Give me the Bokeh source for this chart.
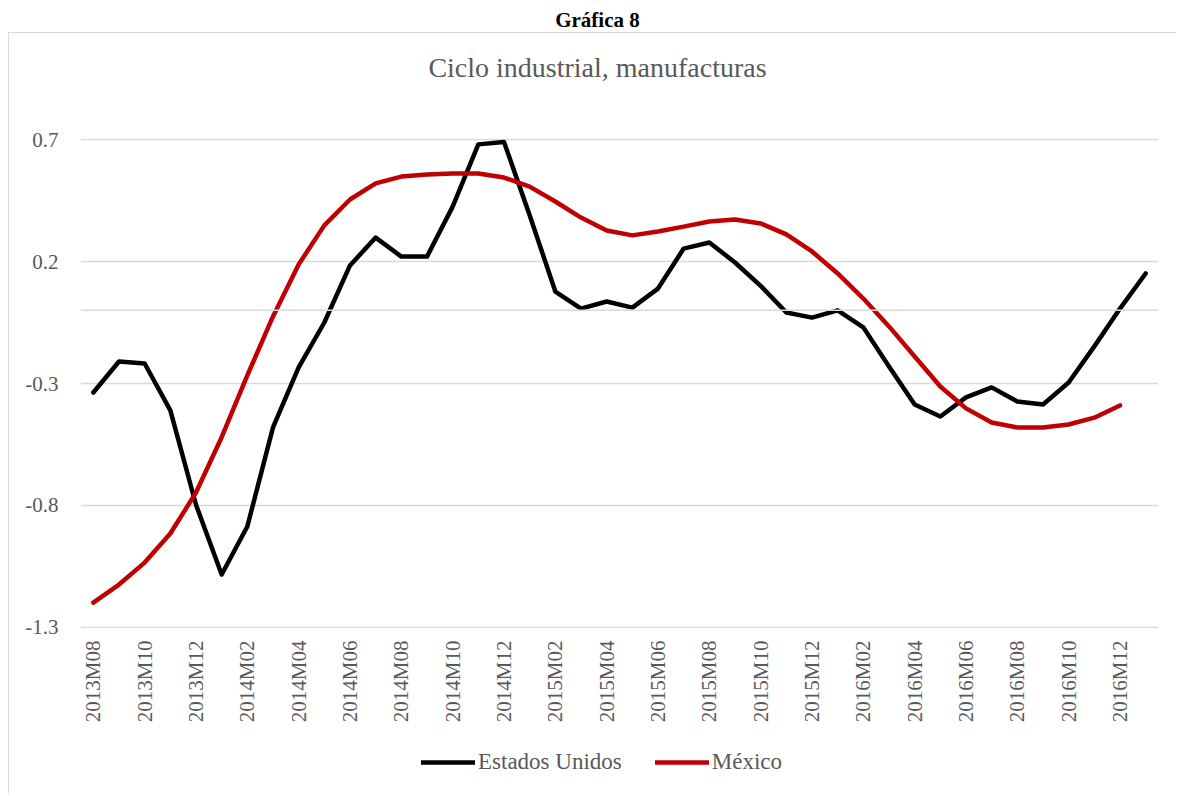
import math
from bokeh.plotting import figure
from bokeh.models import Range1d, FixedTicker, Span, Legend, LegendItem, Div
from bokeh.layouts import column
from bokeh.embed import file_html
from bokeh.resources import INLINE

# ---------------- data ----------------
months = ["2013M08", "2013M09", "2013M10", "2013M11", "2013M12",
          "2014M01", "2014M02", "2014M03", "2014M04", "2014M05", "2014M06",
          "2014M07", "2014M08", "2014M09", "2014M10", "2014M11", "2014M12",
          "2015M01", "2015M02", "2015M03", "2015M04", "2015M05", "2015M06",
          "2015M07", "2015M08", "2015M09", "2015M10", "2015M11", "2015M12",
          "2016M01", "2016M02", "2016M03", "2016M04", "2016M05", "2016M06",
          "2016M07", "2016M08", "2016M09", "2016M10", "2016M11", "2016M12",
          "2017M01"]

estados_unidos = [-0.337, -0.21, -0.218, -0.41, -0.797, -1.083, -0.886, -0.48,
                  -0.234, -0.05, 0.184, 0.298, 0.22, 0.22, 0.425, 0.68, 0.69,
                  0.39, 0.077, 0.007, 0.036, 0.011, 0.089, 0.253, 0.278, 0.196,
                  0.10, -0.009, -0.03, 0.0, -0.07, -0.23, -0.386, -0.435,
                  -0.357, -0.316, -0.374, -0.386, -0.296, -0.148, 0.007, 0.151]

mexico = [-1.198, -1.124, -1.034, -0.915, -0.747, -0.52, -0.267, -0.025, 0.188,
          0.348, 0.454, 0.52, 0.548, 0.557, 0.561, 0.561, 0.544, 0.507, 0.446,
          0.38, 0.327, 0.307, 0.323, 0.343, 0.364, 0.372, 0.356, 0.311, 0.241,
          0.151, 0.048, -0.066, -0.189, -0.312, -0.402, -0.46, -0.48, -0.48,
          -0.468, -0.44, -0.39]

y_ticks = [0.7, 0.2, -0.3, -0.8, -1.3]
y_tick_labels = ["0.7", "0.2", "-0.3", "-0.8", "-1.3"]

header = "Gráfica 8"
chart_title = "Ciclo industrial, manufacturas"
series_names = ["Estados Unidos", "México"]
series_colors = ["#000000", "#C00000"]

# ---------------- styling ----------------
FONT = "Liberation Serif"
GRAY_TEXT = "#595959"
GRID = "#d9d9d9"
BORDER = "1px solid #d9d9d9"

x_us = list(range(len(estados_unidos)))
x_mx = list(range(len(mexico)))
label_ticks = list(range(0, len(months) - 1, 2))
pad = 0.0041

# ---------------- main chart ----------------
p = figure(width=1167, height=621,
           x_range=Range1d(-0.5, len(months) - 0.5),
           y_range=Range1d(min(y_ticks) - pad, max(y_ticks) + pad),
           output_backend="svg", toolbar_location=None,
           min_border_left=71, min_border_right=18,
           min_border_top=31, min_border_bottom=100,
           outline_line_color=None,
           margin=(0, 0, 0, 8),
           styles={"border-left": BORDER})

# y axis
p.yaxis.ticker = FixedTicker(ticks=y_ticks)
p.yaxis.major_label_overrides = {t: l for t, l in zip(y_ticks, y_tick_labels)}
p.yaxis.axis_line_color = None
p.yaxis.major_tick_line_color = None
p.yaxis.minor_tick_line_color = None
p.yaxis.major_tick_out = 0
p.yaxis.major_tick_in = 0
p.yaxis.major_label_text_font = FONT
p.yaxis.major_label_text_font_size = "21px"
p.yaxis.major_label_text_color = GRAY_TEXT
p.yaxis.major_label_standoff = 22

# x axis
p.xaxis.ticker = FixedTicker(ticks=label_ticks)
p.xaxis.major_label_overrides = {i: months[i] for i in label_ticks}
p.xaxis.major_label_orientation = math.pi / 2
p.xaxis.axis_line_color = None
p.xaxis.major_tick_line_color = None
p.xaxis.minor_tick_line_color = None
p.xaxis.major_tick_out = 0
p.xaxis.major_tick_in = 0
p.xaxis.major_label_text_font = FONT
p.xaxis.major_label_text_font_size = "21px"
p.xaxis.major_label_text_color = GRAY_TEXT
p.xaxis.major_label_standoff = 12

p.xgrid.grid_line_color = None
p.ygrid.ticker = FixedTicker(ticks=y_ticks)
p.ygrid.grid_line_color = GRID
p.ygrid.grid_line_width = 1.5

p.add_layout(Span(location=0, dimension="width", line_color=GRID, line_width=1.5))

p.line(x_us, estados_unidos, line_color=series_colors[0], line_width=4.5,
       line_join="round", line_cap="round")
p.line(x_mx, mexico, line_color=series_colors[1], line_width=4.5,
       line_join="round", line_cap="round")

# ---------------- legend strip ----------------
lg = figure(width=1167, height=65, x_range=Range1d(0, 1), y_range=Range1d(0, 1),
            x_axis_type=None, y_axis_type=None,
            output_backend="svg", toolbar_location=None,
            min_border_left=0, min_border_right=0,
            min_border_top=0, min_border_bottom=0,
            outline_line_color=None,
            margin=(0, 0, 0, 8),
            styles={"border-left": BORDER})
lg.xgrid.grid_line_color = None
lg.ygrid.grid_line_color = None
legend_items = []
for name, col in zip(series_names, series_colors):
    # proxy line kept outside the visible range: only its legend swatch shows
    r = lg.line([5, 6], [5, 6], line_color=col, line_width=4.5, line_cap="round")
    legend_items.append(LegendItem(label=name, renderers=[r]))

legend = Legend(items=legend_items,
                orientation="horizontal", location=(341, 18),
                glyph_width=54, glyph_height=20, label_standoff=3, spacing=33,
                padding=0, margin=0, border_line_color=None,
                background_fill_color=None, background_fill_alpha=0,
                label_text_font=FONT, label_text_font_size="23px",
                label_text_color=GRAY_TEXT)
lg.add_layout(legend, "center")

# ---------------- headings ----------------
head = Div(text=('<div style="width:1177px;box-sizing:border-box;padding-left:18px;'
                 'padding-top:8px;text-align:center;font-family:\'Liberation Serif\';'
                 'font-weight:bold;font-size:21px;line-height:24px;color:#000;">'
                 + header + '</div>'),
           width=1177, height=32, margin=(0, 0, 0, 0))

title_div = Div(text=('<div style="width:1168px;box-sizing:border-box;padding-left:9px;'
                      'padding-top:21px;text-align:center;font-family:\'Liberation Serif\';'
                      'font-size:28px;line-height:28px;color:#595959;">'
                      + chart_title + '</div>'),
                width=1168, height=75, margin=(0, 0, 0, 8),
                styles={"border-left": BORDER, "border-top": BORDER})

layout = column(head, title_div, p, lg, spacing=0)

open("out.html", "w").write(file_html(layout, INLINE))
